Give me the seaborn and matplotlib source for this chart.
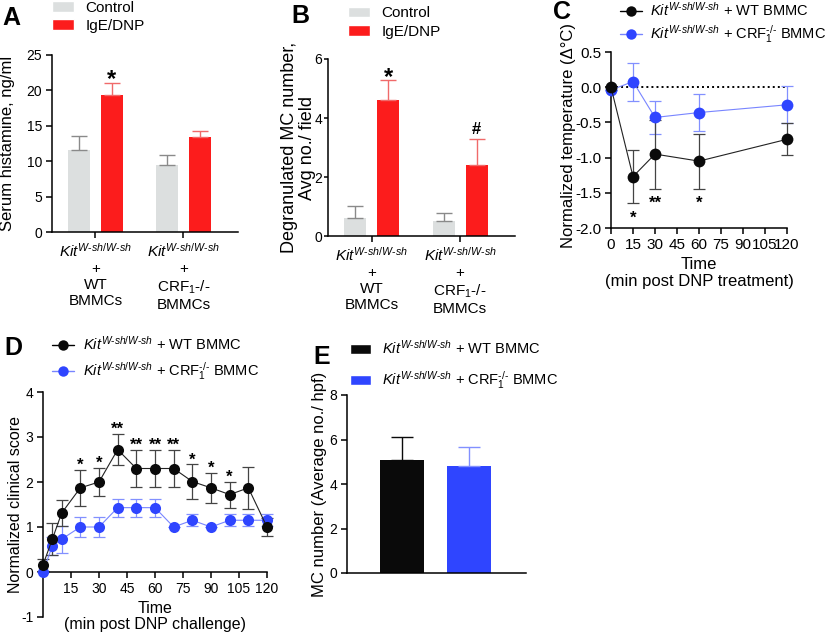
import matplotlib
matplotlib.use("Agg")
import matplotlib.pyplot as plt
import seaborn as sns
import pandas as pd
from matplotlib.patches import Patch
from matplotlib.lines import Line2D

# ---------------- data ----------------
KIT = "$\\mathit{Kit}^{\\mathit{W\u2010sh/W\u2010sh}}$"
ab_groups = ["WT", "CRF1"]
ab_tick_labels = [KIT + "\n+\nWT\nBMMCs", KIT + "\n+\nCRF$_1$-/-\nBMMCs"]
treatments = ["Control", "IgE/DNP"]

hist_control = [11.6, 9.5]
hist_control_sem = [2.0, 1.4]
hist_ige = [19.4, 13.4]
hist_ige_sem = [1.6, 0.9]

degr_control = [0.6, 0.5]
degr_control_sem = [0.42, 0.28]
degr_ige = [4.6, 2.4]
degr_ige_sem = [0.68, 0.9]

series_labels = [KIT + " + WT BMMC", KIT + " + CRF$_1^{\u2010/\u2010}$ BMMC"]

temp_time = [0, 15, 30, 60, 120]
temp_wt = [0.0, -1.27, -0.95, -1.05, -0.74]
temp_wt_sem = [0.0, 0.38, 0.49, 0.39, 0.23]
temp_crf = [-0.04, 0.08, -0.43, -0.36, -0.25]
temp_crf_sem = [0.0, 0.27, 0.23, 0.26, 0.26]
temp_star_time = [15, 30, 60]
temp_star_label = ["*", "**", "*"]

score_time = [0, 5, 10, 20, 30, 40, 50, 60, 70, 80, 90, 100, 110, 120]
score_wt = [0.16, 0.73, 1.31, 1.87, 2.0, 2.72, 2.30, 2.30, 2.30, 2.01, 1.87, 1.72, 1.87, 1.0]
score_wt_sem = [0.14, 0.36, 0.29, 0.40, 0.31, 0.35, 0.42, 0.42, 0.42, 0.38, 0.34, 0.29, 0.46, 0.21]
score_crf = [0.0, 0.58, 0.73, 1.0, 1.0, 1.43, 1.43, 1.43, 1.0, 1.15, 1.0, 1.15, 1.15, 1.15]
score_crf_sem = [0.0, 0.2, 0.3, 0.22, 0.22, 0.2, 0.2, 0.2, 0.0, 0.13, 0.0, 0.13, 0.13, 0.13]
score_star_time = [20, 30, 40, 50, 60, 70, 80, 90, 100]
score_star_label = ["*", "*", "**", "**", "**", "**", "*", "*", "*"]

mc_groups = ["WT BMMC", "CRF1 BMMC"]
mc_mean = [5.08, 4.81]
mc_sem = [1.03, 0.85]

# ---------------- style ----------------
GREY = "#dcdfdf"
GREY_ERR = "#8a8a8a"
RED = "#fc1c1c"
RED_ERR = "#f06a6a"
BLACK = "#0a0a0a"
BLACK_ERR = "#444444"
BLUE = "#2f45ff"
BLUE_LINE = "#7885ff"
BLUE_ERR = "#8290ff"

sns.set_theme(style="ticks")
plt.rcParams.update({
    "font.family": ["Liberation Sans", "DejaVu Sans"],
    "mathtext.fontset": "custom",
    "mathtext.rm": "Liberation Sans",
    "mathtext.it": "Liberation Sans:italic",
    "mathtext.bf": "Liberation Sans:bold",
    "axes.unicode_minus": False,
    "font.size": 10,
    "axes.linewidth": 1.1,
    "axes.edgecolor": "black",
    "axes.labelcolor": "black",
    "text.color": "black",
    "xtick.color": "black",
    "ytick.color": "black",
    "xtick.major.width": 1.1,
    "ytick.major.width": 1.1,
    "xtick.major.size": 4.5,
    "ytick.major.size": 4.5,
    "xtick.major.pad": 2.5,
    "ytick.major.pad": 2.5,
    "xtick.labelsize": 10,
    "ytick.labelsize": 10,
    "axes.labelsize": 11.5,
})

W, H = 835, 635
fig = plt.figure(figsize=(W / 100, H / 100), dpi=100)


def px_axes(left, top, right, bottom):
    return fig.add_axes([left / W, 1 - bottom / H, (right - left) / W, (bottom - top) / H])


def letter(x, y, s):
    fig.text(x / W, 1 - y / H, s, fontsize=18, fontweight="bold", va="top", ha="left")


def mark(ax, x, y, s, dy, size, bold=True):
    ax.annotate(s, (x, y), xytext=(0, dy), textcoords="offset points", ha="center",
                va="baseline", fontsize=size, fontweight="bold" if bold else "normal",
                annotation_clip=False)


def bar_panel(ax, control, control_sem, ige, ige_sem, ylim, yticks, ylabel, ylabel_size):
    df = pd.DataFrame({
        "group": ab_groups * 2,
        "treatment": [treatments[0]] * 2 + [treatments[1]] * 2,
        "value": control + ige,
    })
    sns.barplot(data=df, x="group", y="value", hue="treatment", order=ab_groups,
                hue_order=treatments, palette=[GREY, RED], width=0.75, gap=1 / 3,
                saturation=1, errorbar=None, linewidth=0, legend=False, ax=ax)
    xs_c = [i - 0.1875 for i in range(len(ab_groups))]
    xs_i = [i + 0.1875 for i in range(len(ab_groups))]
    ax.errorbar(xs_c, control, yerr=[[0] * len(control), control_sem], fmt="none",
                ecolor=GREY_ERR, elinewidth=1, capsize=5.8, capthick=1)
    ax.errorbar(xs_i, ige, yerr=[[0] * len(ige), ige_sem], fmt="none",
                ecolor=RED_ERR, elinewidth=1, capsize=5.8, capthick=1)
    ax.set_ylim(*ylim)
    ax.set_yticks(yticks)
    ax.set_xlim(-0.494, 1.62)
    ax.set_xticks(range(len(ab_groups)))
    ax.set_xticklabels(ab_tick_labels, linespacing=1.2, fontsize=11)
    ax.set_xlabel("")
    ax.set_ylabel(ylabel, fontsize=ylabel_size, linespacing=1.1)
    sns.despine(ax=ax)
    handles = [Patch(facecolor=GREY), Patch(facecolor=RED)]
    return handles, xs_i


# ---------------- A ----------------
axA = px_axes(52, 55, 238, 232)
hA, xsA = bar_panel(axA, hist_control, hist_control_sem, hist_ige, hist_ige_sem,
                    (0, 25), [0, 5, 10, 15, 20, 25], "Serum histamine, ng/ml", 12)
axA.yaxis.set_label_coords(-0.2, 0.5)
axA.legend(hA, treatments, loc="center left", bbox_to_anchor=(0.0, 1.217), frameon=False,
           handlelength=1.45, handleheight=0.7, handletextpad=0.75, borderpad=0,
           borderaxespad=0, labelspacing=0.25, fontsize=11)
mark(axA, xsA[0], hist_ige[0] + hist_ige_sem[0], "*", -2, 17)
letter(2, 6, "A")

# ---------------- B ----------------
axB = px_axes(328, 59, 515, 236)
hB, xsB = bar_panel(axB, degr_control, degr_control_sem, degr_ige, degr_ige_sem,
                    (0, 6), [0, 2, 4, 6], "Degranulated MC number,\nAvg no./ field", 13)
axB.tick_params(axis="y", length=3, pad=1)
axB.yaxis.set_label_coords(-0.064, 0.5)
axB.legend(hB, treatments, loc="center left", bbox_to_anchor=(0.107, 1.206), frameon=False,
           handlelength=1.45, handleheight=0.7, handletextpad=0.75, borderpad=0,
           borderaxespad=0, labelspacing=0.3, fontsize=11)
mark(axB, xsB[0], degr_ige[0] + degr_ige_sem[0], "*", -3, 17)
mark(axB, xsB[1], degr_ige[1] + degr_ige_sem[1], "#", 3, 12)
letter(291, 4, "B")


# ---------------- line panels ----------------
def line_series(ax, x, y, err, mcolor, lcolor, ecolor, ms):
    ax.errorbar(x, y, yerr=err, fmt="none", ecolor=ecolor, elinewidth=0.9,
                capsize=4, capthick=0.9, zorder=2, clip_on=False)
    sns.lineplot(x=x, y=y, color=lcolor, marker="o", markersize=ms, markerfacecolor=mcolor,
                 markeredgecolor=mcolor, markeredgewidth=0, linewidth=0.8, errorbar=None,
                 ax=ax, zorder=3, clip_on=False)


def line_legend(ax, anchor, ms, spacing, size):
    handles = [
        Line2D([], [], color="black", marker="o", markersize=ms, markerfacecolor=BLACK,
               markeredgewidth=0, linewidth=1),
        Line2D([], [], color=BLUE_LINE, marker="o", markersize=ms, markerfacecolor=BLUE,
               markeredgecolor=BLUE, markeredgewidth=0, linewidth=1),
    ]
    ax.legend(handles, series_labels, loc="center left", bbox_to_anchor=anchor,
              frameon=False, handlelength=1.5, handletextpad=0.6, borderpad=0,
              borderaxespad=0, labelspacing=spacing, fontsize=size)


# ---------------- C ----------------
axC = px_axes(611, 52, 787, 228)
axC.axhline(0, color="black", linestyle=(0, (1, 1.6)), linewidth=1.4, zorder=1)
line_series(axC, temp_time, temp_crf, temp_crf_sem, BLUE, BLUE_LINE, BLUE_ERR, 8.5)
line_series(axC, temp_time, temp_wt, temp_wt_sem, BLACK, "#222222", BLACK_ERR, 8.5)
axC.set_xlim(0, 120)
axC.set_ylim(-2.0, 0.5)
axC.set_xticks(range(0, 121, 15))
axC.set_yticks([-2.0, -1.5, -1.0, -0.5, 0.0, 0.5])
axC.yaxis.set_major_formatter(matplotlib.ticker.FormatStrFormatter("%.1f"))
axC.tick_params(labelsize=11)
axC.set_xlabel("Time\n(min post DNP treatment)", linespacing=1.15, fontsize=12)
axC.set_ylabel("Normalized temperature (\u0394\u00b0C)", fontsize=12)
axC.yaxis.set_label_coords(-0.2, 0.525)
sns.despine(ax=axC)
for t, s in zip(temp_star_time, temp_star_label):
    i = temp_time.index(t)
    mark(axC, t, temp_wt[i] - temp_wt_sem[i], s, -14, 12)
line_legend(axC, (0.05, 1.165), 7.5, 0.3, 10.5)
letter(553, 0, "C")

# ---------------- D ----------------
axD = px_axes(43, 392, 267, 617)
line_series(axD, score_time, score_crf, score_crf_sem, BLUE, BLUE_LINE, BLUE_ERR, 8)
line_series(axD, score_time, score_wt, score_wt_sem, BLACK, "#222222", BLACK_ERR, 8)
axD.set_xlim(0, 120)
axD.set_ylim(-1, 4)
axD.set_xticks(range(15, 121, 15))
axD.set_yticks(range(-1, 5))
axD.spines["bottom"].set_position(("data", 0))
axD.set_xlabel("Time\n(min post DNP challenge)", linespacing=1.1, fontsize=11.5)
axD.set_ylabel("Normalized clinical score", fontsize=11.5)
axD.yaxis.set_label_coords(-0.09, 0.5)
sns.despine(ax=axD)
for t, s in zip(score_star_time, score_star_label):
    i = score_time.index(t)
    mark(axD, t, score_wt[i] + score_wt_sem[i], s, 0, 12)
line_legend(axD, (0.04, 1.149), 7.5, 0.5, 10.5)
letter(4, 336, "D")

# ---------------- E ----------------
axE = px_axes(347, 395, 526, 573)
sns.barplot(x=mc_groups, y=mc_mean, hue=mc_groups, palette=[BLACK, BLUE], width=0.66,
            saturation=1, errorbar=None, linewidth=0, legend=False, ax=axE)
axE.errorbar([0], mc_mean[:1], yerr=[[0], mc_sem[:1]], fmt="none", ecolor=BLACK,
             elinewidth=1, capsize=8, capthick=1)
axE.errorbar([1], mc_mean[1:], yerr=[[0], mc_sem[1:]], fmt="none", ecolor=BLUE_ERR,
             elinewidth=1, capsize=8, capthick=1)
axE.set_xlim(-0.82, 1.85)
axE.set_ylim(0, 8)
axE.set_yticks([0, 2, 4, 6, 8])
axE.tick_params(axis="x", length=0, labelbottom=False)
axE.set_ylabel("MC number (Average no./ hpf)", fontsize=12)
axE.yaxis.set_label_coords(-0.112, 0.5)
sns.despine(ax=axE)
axE.legend([Patch(facecolor=BLACK), Patch(facecolor=BLUE)], series_labels,
           loc="center left", bbox_to_anchor=(0.017, 1.169), frameon=False,
           handlelength=1.45, handleheight=0.7, handletextpad=0.75, borderpad=0,
           borderaxespad=0, labelspacing=0.85, fontsize=10.5)
letter(313, 345, "E")

fig.savefig("out.png", dpi=100)
